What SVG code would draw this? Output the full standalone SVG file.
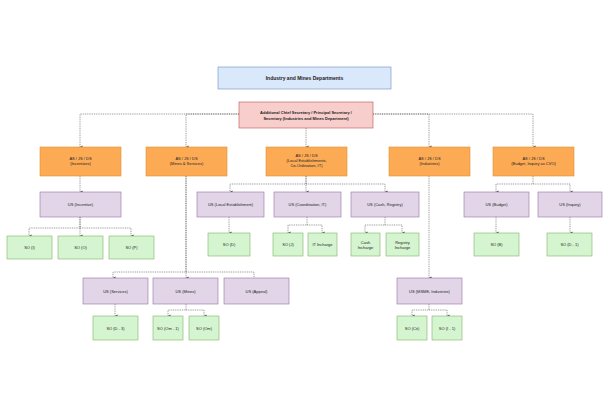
<svg xmlns="http://www.w3.org/2000/svg" width="609" height="406" viewBox="0 0 609 406">
<defs>
<marker id="ah" markerWidth="4" markerHeight="4" refX="2" refY="3.5" orient="auto" markerUnits="userSpaceOnUse" viewBox="0 0 4 4">
<path d="M0.5,1 L2,3.6 L3.5,1 Z" fill="#333"/>
</marker>
<style>
.title{fill:#dae8fc;stroke:#6c8ebf;stroke-width:0.6}
.chief{fill:#f8cecc;stroke:#b85450;stroke-width:0.6}
.as{fill:#fdaa55;stroke:#e0922f;stroke-width:0.6}
.us{fill:#e1d5e7;stroke:#9673a6;stroke-width:0.6}
.so{fill:#d5f5d0;stroke:#82b366;stroke-width:0.6}
text{font-family:"Liberation Sans",Arial,sans-serif;fill:#222;text-anchor:middle;font-size:4px}
.b{font-weight:bold}
.c path{fill:none;stroke:#555;stroke-width:0.6;stroke-dasharray:1 0.8}
.c path.a{marker-end:url(#ah)}
</style>
</defs>
<rect width="609" height="406" fill="#ffffff"/>
<g class="c" id="connectors">
<path class="a" d="M239,114 H80 V147"/>
<path class="a" d="M239,114 H186 V147"/>
<path class="a" d="M306,128 V147"/>
<path class="a" d="M373,114 H429 V147"/>
<path class="a" d="M373,114 H533 V147"/>
<path class="a" d="M80,176 V192"/>
<path class="a" d="M80,217 V228 H29 V236"/>
<path class="a" d="M80,217 V236"/>
<path class="a" d="M80,228 H131 V236"/>
<path class="a" d="M186,176 V272 H113 V278"/>
<path class="a" d="M186,176 V278"/>
<path d="M186,272 H254 V278"/>
<path class="a" d="M115,304 V316"/>
<path class="a" d="M186,304 V310 H168 V316"/>
<path class="a" d="M186,310 H204 V316"/>
<path class="a" d="M306,176 V184 H230 V192"/>
<path class="a" d="M306,176 V192"/>
<path class="a" d="M306,184 H385 V192"/>
<path class="a" d="M229,217 V233"/>
<path class="a" d="M307,217 V225 H288 V233"/>
<path class="a" d="M307,225 H322 V233"/>
<path class="a" d="M385,217 V225 H365 V233"/>
<path class="a" d="M385,225 H402 V233"/>
<path class="a" d="M429,176 V278"/>
<path class="a" d="M429,304 V310 H412 V316"/>
<path class="a" d="M429,310 H447 V316"/>
<path class="a" d="M533,176 V184 H496 V192"/>
<path class="a" d="M533,184 H570 V192"/>
<path class="a" d="M496,217 V233"/>
<path class="a" d="M570,217 V233"/>
</g>
<g id="n-title"><rect class="title" x="218" y="67" width="173" height="22"/><text class="b" x="304.5" y="79.8" style="font-size:5px">Industry and Mines Departments</text></g>
<g id="n-chief"><rect class="chief" x="239" y="102" width="134" height="26"/><text class="b" x="306" y="113.5">Additional Chief Secretary / Principal Secretary /</text><text class="b" x="306" y="119.5">Secretary (Industries and Mines Department)</text></g>
<g id="n-as1"><rect class="as" x="40" y="147" width="81" height="29"/><text x="80.5" y="159.5">AS / JS / DS</text><text x="80.5" y="164.5">(Incentives)</text></g>
<g id="n-as2"><rect class="as" x="146" y="147" width="81" height="29"/><text x="186.5" y="159.5">AS / JS / DS</text><text x="186.5" y="164.5">(Mines &amp; Services)</text></g>
<g id="n-as3"><rect class="as" x="266" y="147" width="81" height="29"/><text x="306.5" y="157">AS / JS / DS</text><text x="306.5" y="162">(Local Establishments,</text><text x="306.5" y="167">Co-Ordination, IT)</text></g>
<g id="n-as4"><rect class="as" x="389" y="147" width="81" height="29"/><text x="429.5" y="159.5">AS / JS / DS</text><text x="429.5" y="164.5">(Industries)</text></g>
<g id="n-as5"><rect class="as" x="493" y="147" width="81" height="29"/><text x="533.5" y="159.5">AS / JS / DS</text><text x="533.5" y="164.5">(Budget, Inquiry as CVO)</text></g>
<g id="n-us-inc"><rect class="us" x="40" y="192" width="81" height="25"/><text x="80.5" y="206">US (Incentive)</text></g>
<g id="n-us-loc"><rect class="us" x="197" y="192" width="67" height="25"/><text x="230.5" y="206">US (Local Establishment)</text></g>
<g id="n-us-coord"><rect class="us" x="274" y="192" width="67" height="25"/><text x="307.5" y="206">US (Coordination, IT)</text></g>
<g id="n-us-cash"><rect class="us" x="351" y="192" width="68" height="25"/><text x="385" y="206">US (Cash, Registry)</text></g>
<g id="n-us-bud"><rect class="us" x="464" y="192" width="65" height="25"/><text x="496.5" y="206">US (Budget)</text></g>
<g id="n-us-inq"><rect class="us" x="538" y="192" width="64" height="25"/><text x="570" y="206">US (Inquiry)</text></g>
<g id="n-so-i"><rect class="so" x="7" y="236" width="45" height="23"/><text x="29.5" y="249">SO (I)</text></g>
<g id="n-so-o"><rect class="so" x="58" y="236" width="45" height="23"/><text x="80.5" y="249">SO (O)</text></g>
<g id="n-so-p"><rect class="so" x="109" y="236" width="45" height="23"/><text x="131.5" y="249">SO (P)</text></g>
<g id="n-so-d"><rect class="so" x="208" y="233" width="42" height="23"/><text x="229" y="246">SO (D)</text></g>
<g id="n-so-j"><rect class="so" x="273" y="233" width="30" height="23"/><text x="288" y="246">SO (J)</text></g>
<g id="n-it"><rect class="so" x="308" y="233" width="29" height="23"/><text x="322.5" y="246">IT Incharge</text></g>
<g id="n-cash"><rect class="so" x="351" y="233" width="29" height="23"/><text x="365.5" y="243.5">Cash</text><text x="365.5" y="248.5">Incharge</text></g>
<g id="n-reg"><rect class="so" x="386" y="233" width="33" height="23"/><text x="402.5" y="243.5">Registry</text><text x="402.5" y="248.5">Incharge</text></g>
<g id="n-so-b"><rect class="so" x="474" y="233" width="45" height="23"/><text x="496.5" y="246">SO (B)</text></g>
<g id="n-so-d1"><rect class="so" x="547" y="233" width="45" height="23"/><text x="569.5" y="246">SO (D - 1)</text></g>
<g id="n-us-serv"><rect class="us" x="83" y="278" width="65" height="26"/><text x="115.5" y="292.5">US (Services)</text></g>
<g id="n-us-mines"><rect class="us" x="153" y="278" width="65" height="26"/><text x="185.5" y="292.5">US (Mines)</text></g>
<g id="n-us-app"><rect class="us" x="224" y="278" width="65" height="26"/><text x="256.5" y="292.5">US (Appeal)</text></g>
<g id="n-us-msme"><rect class="us" x="397" y="278" width="65" height="26"/><text x="429.5" y="292.5">US (MSME, Industries)</text></g>
<g id="n-so-d3"><rect class="so" x="93" y="316" width="45" height="24"/><text x="115.5" y="329.5">SO (D - 3)</text></g>
<g id="n-so-om1"><rect class="so" x="153" y="316" width="30" height="24"/><text x="168" y="329.5">SO (Om - 1)</text></g>
<g id="n-so-om"><rect class="so" x="189" y="316" width="30" height="24"/><text x="204" y="329.5">SO (Om)</text></g>
<g id="n-so-cit"><rect class="so" x="397" y="316" width="30" height="24"/><text x="412" y="329.5">SO (Cit)</text></g>
<g id="n-so-i1"><rect class="so" x="432" y="316" width="30" height="24"/><text x="447" y="329.5">SO (I - 1)</text></g>
</svg>
